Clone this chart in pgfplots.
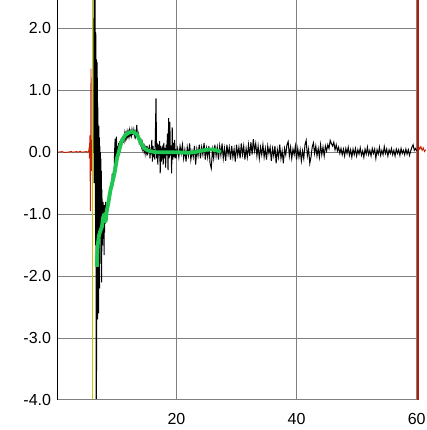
\documentclass[border=0pt]{standalone}
\usepackage{fontspec}
\setmainfont{Liberation Sans}
\usepackage{pgfplots}
\pgfplotsset{compat=1.18}

\definecolor{sigred}{RGB}{200,30,0}
\definecolor{markred}{RGB}{185,25,10}
\definecolor{cursoryellow}{RGB}{205,200,0}
\definecolor{fitgreen}{RGB}{30,200,80}
\definecolor{gridgray}{RGB}{128,128,128}

\begin{document}
\begin{tikzpicture}
\begin{axis}[
  at={(57.2pt,30pt)}, anchor=south west,
  scale only axis,
  width=359.5pt, height=400pt,
  xmin=0.15, xmax=60,
  ymin=-4, ymax=2.457,
  clip=false,
  axis line style={draw=none},
  xtick={20,40,60},
  xticklabels={20,40,60},
  ytick={-4,-3,-2,-1,0,1,2},
  yticklabels={-4.0,-3.0,-2.0,-1.0,0.0,1.0,2.0},
  xtick pos=bottom, ytick pos=left,
  major tick length=0pt,
  tick style={draw=none},
  grid=major,
  major grid style={draw=gridgray, line width=1pt},
  tick label style={font=\fontsize{16}{18}\selectfont},
  xticklabel style={anchor=north, inner sep=0pt, yshift=-13pt},
  yticklabel style={anchor=east, inner sep=0pt, xshift=-6pt},
]
% red signal before the trigger
\addplot[sigred, line width=0.9pt] coordinates {
(0.2,0) (1.0,0.01) (1.2,0) (1.6,-0.005) (2.5,0.012) (2.7,0) (3.4,0.01) (3.6,0)
(4.0,0.015) (4.2,0) (5.0,0.01) (5.2,0) (5.4,0.02) (5.48,0.08) (5.52,-0.1)
(5.58,0.27) (5.62,-0.15) (5.68,-0.95) (5.72,0.1) (5.78,1.35) (5.84,-0.3)
(5.9,0.2) (5.95,-0.2) (6.0,0.05)
};
% red signal after the end marker
\addplot[sigred, line width=0.9pt] coordinates {
(60.3,0.1) (60.5,0.05) (60.7,0.09) (60.9,0.03) (61.1,0.07) (61.3,0.01) (61.5,0.04)
};
% measured response
\addplot[black, line width=1pt] coordinates {
(6.25,0.0) (6.28,2.457) (6.31,-0.5) (6.34,2.457) (6.37,0.2) (6.40,2.457) (6.43,-0.3)
(6.46,2.457) (6.5,-1.0) (6.53,1.94) (6.56,-1.5) (6.6,1.9) (6.63,-4) (6.66,1.5)
(6.69,-4) (6.72,1.48) (6.75,-2.65) (6.78,1.45) (6.81,-2.6) (6.84,1.2)
(6.87,-2.7) (6.9,0.8) (6.93,-2.5) (6.96,0.45) (7.0,-2.3) (7.03,0.3) (7.06,-2.6)
(7.1,0.42) (7.13,-2.0) (7.16,0.24) (7.2,-2.2) (7.24,0.1) (7.28,-1.8) (7.32,0.0)
(7.36,-1.4) (7.4,-0.1) (7.45,-1.3) (7.5,-0.3) (7.55,-2.1) (7.6,-0.6) (7.65,-1.5)
(7.7,-0.9) (7.75,-1.4) (7.8,-0.8) (7.85,-1.25) (7.9,-0.85) (7.95,-1.66) (8.0,-0.9)
(8.05,-1.3) (8.1,-0.85) (8.15,-1.15) (8.2,-0.8) (8.25,-1.1) (8.3,-0.85)
(8.4,-1.1) (8.5,-0.8) (8.6,-0.95) (8.7,-0.65) (8.8,-0.85) (8.9,-0.6) (9.0,-0.75)
(9.1,-0.5) (9.2,-0.6) (9.3,-0.35) (9.4,-0.55) (9.5,-0.3) (9.6,-0.45) (9.7,0.0)
(9.8,0.22) (9.9,-0.2) (10.0,0.25) (10.1,-0.05) (10.2,0.1) (10.3,-0.05) (10.4,0.15)
(10.5,0.05) (10.6,0.18) (10.7,0.08) (10.8,0.22) (10.9,0.12) (11.0,0.25) (11.1,0.15)
(11.2,0.28) (11.3,0.2) (11.4,0.3) (11.5,0.22) (11.6,0.3) (11.7,0.24) (11.8,0.33)
(11.9,0.26) (12.0,0.32) (12.1,0.25) (12.2,0.35) (12.3,0.28) (12.4,0.33) (12.5,0.27)
(12.6,0.36) (12.7,0.29) (12.8,0.3) (12.9,0.36) (13.0,0.27) (13.1,0.32) (13.2,0.25)
(13.3,0.3) (13.4,0.44) (13.5,0.26) (13.6,0.22) (13.7,0.28) (13.8,0.16) (13.9,0.2)
(14.0,0.13) (14.1,0.18) (14.2,0.09) (14.3,0.15) (14.4,0.05) (14.5,0.1) (14.6,0.02)
(14.7,0.08) (14.8,-0.02) (14.9,0.06) (15.0,0.0) (15.1,0.1) (15.2,-0.05) (15.3,0.07)
(15.4,-0.02) (15.5,0.12) (15.6,-0.1) (15.7,0.05) (15.8,-0.03) (15.9,0.2) (16.0,-0.15)
(16.1,0.1) (16.2,-0.08) (16.3,0.05) (16.4,-0.12) (16.5,0.3) (16.6,0.87) (16.7,-0.1)
(16.8,0.15) (16.9,-0.2) (17.0,0.12) (17.1,-0.05) (17.2,0.18) (17.3,-0.34) (17.4,0.1)
(17.5,-0.15) (17.6,0.05) (17.7,0.08) (17.8,-0.2) (17.9,0.15) (18.0,-0.1) (18.1,0.07)
(18.2,-0.25) (18.3,0.12) (18.4,-0.05) (18.5,0.3) (18.6,-0.29) (18.7,0.55) (18.8,-0.1)
(18.9,0.49) (19.0,-0.05) (19.1,0.1) (19.2,-0.34) (19.3,0.4) (19.4,-0.12) (19.5,0.15)
(19.6,-0.08) (19.7,0.2) (19.8,-0.1) (19.9,0.05) (20.0,-0.05)
(20.2,0.06) (20.4,-0.08) (20.6,0.1) (20.8,-0.02) (21.0,0.12) (21.2,-0.1) (21.4,0.04)
(21.6,-0.15) (21.8,0.08) (22.0,-0.05) (22.2,0.14) (22.4,-0.12) (22.6,0.02) (22.8,-0.08)
(23.0,0.1) (23.2,-0.2) (23.4,0.05) (23.6,-0.06) (23.8,0.12) (24.0,-0.1) (24.2,0.08)
(24.4,-0.04) (24.6,0.15) (24.8,-0.12) (25.0,0.06) (25.2,-0.08) (25.4,0.1) (25.6,-0.18)
(25.8,-0.26) (26.0,0.04) (26.2,-0.1) (26.4,0.12) (26.6,-0.06) (26.8,0.08) (27.0,-0.12)
(27.2,0.1) (27.4,-0.05) (27.6,0.14) (27.8,-0.1) (28.0,0.06) (28.2,-0.14) (28.4,0.12)
(28.6,-0.04) (28.8,0.08) (29.0,-0.12) (29.2,0.1) (29.4,-0.08) (29.6,0.05) (29.8,-0.15)
(30.0,0.12) (30.2,-0.05) (30.4,0.08) (30.6,-0.1) (30.8,0.14) (31.0,-0.04) (31.2,0.1)
(31.4,-0.12) (31.6,0.06) (31.8,-0.08) (32.0,0.12) (32.2,-0.06) (32.4,0.16) (32.6,-0.04)
(32.8,0.21) (33.0,0.02) (33.2,0.14) (33.4,-0.06) (33.6,0.1) (33.8,-0.1) (34.0,0.08)
(34.2,-0.04) (34.4,0.12) (34.6,-0.08) (34.8,0.06) (35.0,-0.12) (35.2,0.1) (35.4,-0.02)
(35.6,0.08) (35.8,-0.14) (36.0,0.06) (36.2,-0.06) (36.4,0.1) (36.6,-0.18) (36.8,0.04)
(37.0,-0.08) (37.2,0.12) (37.4,-0.1) (37.6,0.02) (37.8,-0.18) (38.0,0.06) (38.2,-0.04)
(38.4,0.12) (38.6,0.17) (38.8,-0.06) (39.0,0.08) (39.2,-0.1) (39.4,0.05) (39.6,-0.04)
(39.8,0.1) (40.0,-0.12) (40.2,0.06) (40.4,-0.08) (40.6,0.04) (40.8,-0.14) (41.0,0.02)
(41.2,-0.1) (41.4,0.12) (41.6,0.19) (41.8,-0.06) (42.0,0.05) (42.2,-0.18) (42.4,-0.08)
(42.6,0.08) (42.8,0.15) (43.0,-0.02) (43.2,0.1) (43.4,-0.06) (43.6,0.06) (43.8,-0.08)
(44.0,0.12) (44.2,-0.04) (44.4,0.08) (44.6,-0.06) (44.8,0.1) (45.0,0.02) (45.2,0.12)
(45.4,0.06) (45.6,0.19) (45.8,0.14) (46.0,0.1) (46.2,0.16) (46.4,0.04) (46.6,0.12)
(46.8,0.02) (47.0,0.08) (47.2,-0.02) (47.4,0.06) (47.6,-0.04) (47.8,0.05) (48.0,-0.06)
(48.2,0.06) (48.4,-0.02) (48.6,0.08) (48.8,-0.05) (49.0,0.04) (49.2,-0.08) (49.4,0.05)
(49.6,-0.04) (49.8,0.06) (50.0,-0.06) (50.2,0.04) (50.4,-0.03) (50.6,0.07) (50.8,-0.05)
(51.0,0.02) (51.2,-0.08) (51.4,0.05) (51.6,-0.03) (51.8,0.08) (52.0,-0.04) (52.2,0.03)
(52.4,-0.06) (52.6,0.06) (52.8,-0.02) (53.0,0.05) (53.2,-0.1) (53.4,0.04) (53.6,-0.03)
(53.8,0.08) (54.0,-0.05) (54.2,0.03) (54.4,-0.04) (54.6,0.09) (54.8,-0.02) (55.0,0.05)
(55.2,-0.06) (55.4,0.04) (55.6,-0.02) (55.8,0.06) (56.0,-0.04) (56.2,0.03) (56.4,-0.06)
(56.6,0.05) (56.8,-0.02) (57.0,0.04) (57.2,-0.05) (57.4,0.06) (57.6,-0.02) (57.8,0.03)
(58.0,-0.04) (58.2,0.05) (58.4,-0.03) (58.6,0.04) (58.8,-0.05) (59.0,0.02) (59.2,0.08)
(59.4,0.12) (59.6,0.03) (59.8,0.06) (60.0,0.02)
};
% fitted curve
\addplot[fitgreen, line width=3.8pt, line join=round] coordinates {
(6.76,-1.85) (6.8,-1.7) (6.9,-1.5) (7.1,-1.35) (7.3,-1.28) (7.6,-1.2) (7.8,-1.05)
(8.0,-1.0) (8.2,-1.12) (8.4,-0.95) (8.7,-0.8) (9.0,-0.62) (9.3,-0.5) (9.6,-0.38)
(9.8,-0.28) (10.1,-0.1) (10.4,0.0) (10.7,0.12) (11.0,0.2) (11.5,0.28) (12.0,0.31)
(12.5,0.33) (13.0,0.32) (13.5,0.27) (14.0,0.17) (14.5,0.08) (15.0,0.04) (15.5,0.02)
(16.5,0.0) (18,0.0) (20,0.0) (22,-0.01) (23,0.0) (24,0.02) (25,0.04) (26,0.045)
(27,0.02) (27.4,0.0)
};
% cursor lines
\addplot[cursoryellow, line width=1pt] coordinates {(6.05,-4) (6.05,2.457)};
\addplot[markred, line width=1.3pt] coordinates {(60.2,-4) (60.2,2.457)};
% axis lines: black on the left, grey along the bottom
\draw[gridgray, line width=1pt] (rel axis cs:0,0) -- (rel axis cs:1,0);
\draw[black, line width=1.3pt] (rel axis cs:0,0) -- (rel axis cs:0,1);
\end{axis}
\pgfresetboundingbox
\useasboundingbox (0,0) rectangle (426pt,430pt);
\end{tikzpicture}
\end{document}
